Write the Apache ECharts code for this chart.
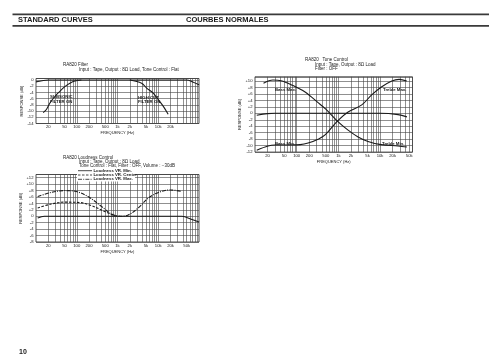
<!DOCTYPE html>
<html><head><meta charset="utf-8">
<script src="https://cdn.jsdelivr.net/npm/echarts@6/dist/echarts.min.js"></script>
<style>html,body{margin:0;padding:0;background:#fff}#c{width:500px;height:364px}</style>
</head><body><div id="c"></div>
<script>
// ---------- Chart 1 : Filter ----------
const filterOffFreq = [10, 12, 15, 20, 30, 50, 1000, 20000, 50000, 70000, 100000];
const filterOffDb   = [-0.6, -0.4, -0.15, 0, 0, 0, 0, 0, 0, -0.6, -1.5];
const subsonicFreq  = [15, 18, 22, 29, 38, 51, 68, 90, 130];
const subsonicDb    = [-10.5, -9.5, -7.4, -5.3, -3.7, -2.1, -1.0, -0.3, 0];
const highCutFreq   = [2000, 3900, 5200, 7500, 10000, 13200, 17500];
const highCutDb     = [0, -1.0, -2.6, -4.2, -6.3, -8.4, -11.0];
const filterTicks   = [20, 50, 100, 200, 500, 1000, 2000, 5000, 10000, 20000];

// ---------- Chart 2 : Tone control ----------
const toneFlatFreq  = [11, 20, 30, 10000, 27000, 44000];
const toneFlatDb    = [-0.6, -0.1, 0, 0, -0.4, -1.1];
const bassMaxFreq   = [16, 27, 42, 76, 159, 326, 507, 946, 1710, 2970, 5150, 10600, 27000, 44000];
const bassMaxDb     = [9.3, 10.3, 10.1, 8.8, 6.6, 3.3, 1.2, -2.4, -5.2, -7.3, -8.7, -9.7, -10.1, -10.4];
const bassMinFreq   = [11, 20.6, 30, 70, 121, 188, 326, 480, 946, 1710, 3640, 6300, 11000, 19100, 28600, 43700];
const bassMinDb     = [-11.4, -10.1, -9.8, -9.8, -9.7, -9.2, -8.0, -6.7, -2.4, 0.4, 2.6, 5.7, 8.2, 10.0, 10.5, 10.0];
const toneTicks     = [20, 50, 100, 200, 500, 1000, 2000, 5000, 10000, 20000, 50000];

// ---------- Chart 3 : Loudness ----------
const loudMinFreq    = [11, 16, 38000, 67000, 100000];
const loudMinDb      = [-0.5, 0, 0, -1, -1.8];
const loudCenterFreq = [11, 23.5, 50, 117, 228, 486, 858, 1140];
const loudCenterDb   = [2.6, 3.8, 4.4, 4.3, 3.3, 1.5, 0.2, 0];
const loudMaxFreq    = [11, 23.5, 50, 97, 189, 403, 711, 1140, 1836, 3243, 5730, 10100, 19500, 38000];
const loudMaxDb      = [6.15, 7.4, 8.0, 7.7, 6.15, 3.1, 0.7, 0, 0.4, 2.6, 5.7, 7.4, 8.2, 7.7];
const loudTicks      = [20, 50, 100, 200, 500, 1000, 2000, 5000, 10000, 20000, 50000];

const FONT = '"Liberation Sans", Arial, Helvetica, sans-serif';
const INK = '#1a1a1a';
const GRID = '#444';
function pairs(fs, ds) { return fs.map((f, i) => [f, ds[i]]); }
function gridFreqs(min, max) {
  const out = [];
  for (let k = 1; k <= 5; k++) for (let m = 1; m <= 9; m++) {
    const f = m * Math.pow(10, k);
    if (f > min * 1.001 && f < max * 0.999) out.push(f);
  }
  return out;
}
function vGrid(min, max) {
  return {
    silent: true, symbol: ['none', 'none'], z: 1, animation: false,
    label: { show: false },
    lineStyle: { color: GRID, width: 0.6, type: 'solid' },
    emphasis: { disabled: true },
    data: gridFreqs(min, max).map(f => ({ xAxis: f }))
  };
}
function fmtX(v) { return v >= 1000 ? (v / 1000) + 'k' : String(v); }
function xAx(gi, min, max, ticks) {
  return {
    type: 'log', logBase: 10, gridIndex: gi, min: min, max: max,
    name: 'FREQUENCY (Hz)', nameLocation: 'middle', nameGap: 7.5,
    nameTextStyle: { fontSize: 4, fontFamily: FONT, color: INK },
    axisLine: { show: false }, axisTick: { show: false }, splitLine: { show: false },
    axisLabel: { customValues: ticks, fontSize: 4.2, margin: 1.8, color: INK, fontFamily: FONT, formatter: fmtX }
  };
}
function yAx(gi, min, max, plus, gap) {
  return {
    type: 'value', gridIndex: gi, min: min, max: max, interval: 2,
    name: 'RESPONSE (dB)', nameLocation: 'middle', nameGap: gap, nameRotate: 90,
    nameTextStyle: { fontSize: 4, fontFamily: FONT, color: INK },
    axisLine: { show: false }, axisTick: { show: false },
    splitLine: { lineStyle: { color: GRID, width: 0.6 } },
    axisLabel: {
      fontSize: 4.2, margin: 2.5, color: INK, fontFamily: FONT,
      formatter: v => (Math.abs(v % 2) > 1e-6 ? '' : (plus && v > 0 ? '+' + v : String(v)))
    }
  };
}
function line(name, xi, data, dash, extra) {
  const s = {
    name: name, type: 'line', xAxisIndex: xi, yAxisIndex: xi, data: data,
    smooth: 0.35, symbol: 'none', silent: true, z: 3,
    lineStyle: { color: INK, width: 1.1, type: dash || 'solid' }
  };
  return Object.assign(s, extra || {});
}
function txt(x, y, t, size, bold, align) {
  return { type: 'text', x: x, y: y, silent: true, z: 10,
    style: { text: t, fontSize: size, fontWeight: bold ? 'bold' : 'normal', fontFamily: FONT,
      fill: INK, textVerticalAlign: 'middle', verticalAlign: 'middle', textAlign: align || 'left', align: align || 'left' } };
}

const chart = echarts.init(document.getElementById('c'), null, { renderer: 'canvas' });
const dashCenter = [2.5, 1.5];
const dashMax = [4, 1.2, 1, 1.2];

const option = {
  animation: false,
  backgroundColor: '#fff',
  grid: [
    { left: 36, top: 78.5, width: 163, height: 45, show: true, borderColor: '#222', borderWidth: 0.8, containLabel: false },
    { left: 255, top: 76.8, width: 157.5, height: 75.3, show: true, borderColor: '#222', borderWidth: 0.8, containLabel: false },
    { left: 36, top: 174.5, width: 163, height: 67.5, show: true, borderColor: '#222', borderWidth: 0.8, containLabel: false }
  ],
  xAxis: [xAx(0, 10, 100000, filterTicks), xAx(1, 10, 60000, toneTicks), xAx(2, 10, 100000, loudTicks)],
  yAxis: [yAx(0, -14, 0.5, false, 11), yAx(1, -12, 11.3, true, 11), yAx(2, -8, 13, true, 11)],
  series: [
    line('Filter OFF', 0, pairs(filterOffFreq, filterOffDb), 'solid', { markLine: vGrid(10, 100000) }),
    line('Subsonic', 0, pairs(subsonicFreq, subsonicDb)),
    line('High Cut', 0, pairs(highCutFreq, highCutDb)),
    line('Tone Flat', 1, pairs(toneFlatFreq, toneFlatDb), 'solid', { markLine: vGrid(10, 60000) }),
    line('Bass Max / Treble Min', 1, pairs(bassMaxFreq, bassMaxDb)),
    line('Bass Min / Treble Max', 1, pairs(bassMinFreq, bassMinDb)),
    line('Loudness VR. Min.', 2, pairs(loudMinFreq, loudMinDb), 'solid', { markLine: vGrid(10, 100000) }),
    line('Loudness VR. Center', 2, pairs(loudCenterFreq, loudCenterDb), dashCenter),
    line('Loudness VR. Max.', 2, pairs(loudMaxFreq, loudMaxDb), dashMax)
  ],
  graphic: [
    { type: 'rect', silent: true, shape: { x: 12.5, y: 13.6, width: 476.5, height: 1.7 }, style: { fill: '#3a3a3a' } },
    { type: 'rect', silent: true, shape: { x: 12.5, y: 25, width: 476.5, height: 1.8 }, style: { fill: '#3a3a3a' } },
    txt(18, 20.2, 'STANDARD CURVES', 7.5, true),
    txt(186, 20.2, 'COURBES NORMALES', 7.5, true),
    // chart 1 titles
    txt(63, 65, 'RA820 Filter', 4.5, false),
    txt(79, 69.5, 'Input : Tape, Output : 8Ω Load, Tone Control : Flat', 4.5, false),
    txt(50, 96.5, 'SUBSONIC', 4.3, true),
    txt(50, 101.5, 'FILTER ON', 4.3, true),
    txt(138, 97.5, 'HIGH CUT', 4.3, true),
    txt(138, 102.3, 'FILTER ON', 4.3, true),
    // chart 2 titles
    txt(305, 60, 'RA820   Tone Control', 4.5, false),
    txt(315, 64.3, 'Input : Tape, Output : 8Ω Load', 4.5, false),
    txt(315, 68.5, 'Filter : OFF', 4.5, false),
    txt(275, 90, 'Bass Max.', 4.3, true),
    txt(383, 90, 'Treble Max.', 4.3, true),
    txt(275, 144.3, 'Bass Min.', 4.3, true),
    txt(382, 144.3, 'Treble Min.', 4.3, true),
    // chart 3 titles
    txt(63, 157.3, 'RA820 Loudness Control', 4.5, false),
    txt(79, 161.7, 'Input : Tape, Output : 8Ω Load', 4.5, false),
    txt(79, 166, 'Tone Control : Flat, Filter : OFF, Volume : \u221230dB', 4.5, false),
    // legend chart 3
    { type: 'rect', silent: true, z: 9, shape: { x: 77, y: 168.5, width: 58, height: 13 }, style: { fill: '#fff' } },
    { type: 'line', silent: true, z: 10, shape: { x1: 78, y1: 170.7, x2: 92, y2: 170.7 }, style: { stroke: INK, lineWidth: 0.8 } },
    { type: 'line', silent: true, z: 10, shape: { x1: 78, y1: 175, x2: 92, y2: 175 }, style: { stroke: INK, lineWidth: 0.8, lineDash: dashCenter } },
    { type: 'line', silent: true, z: 10, shape: { x1: 78, y1: 179.3, x2: 92, y2: 179.3 }, style: { stroke: INK, lineWidth: 0.8, lineDash: dashMax } },
    txt(93.5, 170.7, 'Loudness VR. Min.', 4.3, true),
    txt(93.5, 175, 'Loudness VR. Center', 4.3, true),
    txt(93.5, 179.3, 'Loudness VR. Max.', 4.3, true),
    // page number
    txt(19, 352, '10', 7, true)
  ]
};
chart.setOption(option);
</script>
</body></html>
